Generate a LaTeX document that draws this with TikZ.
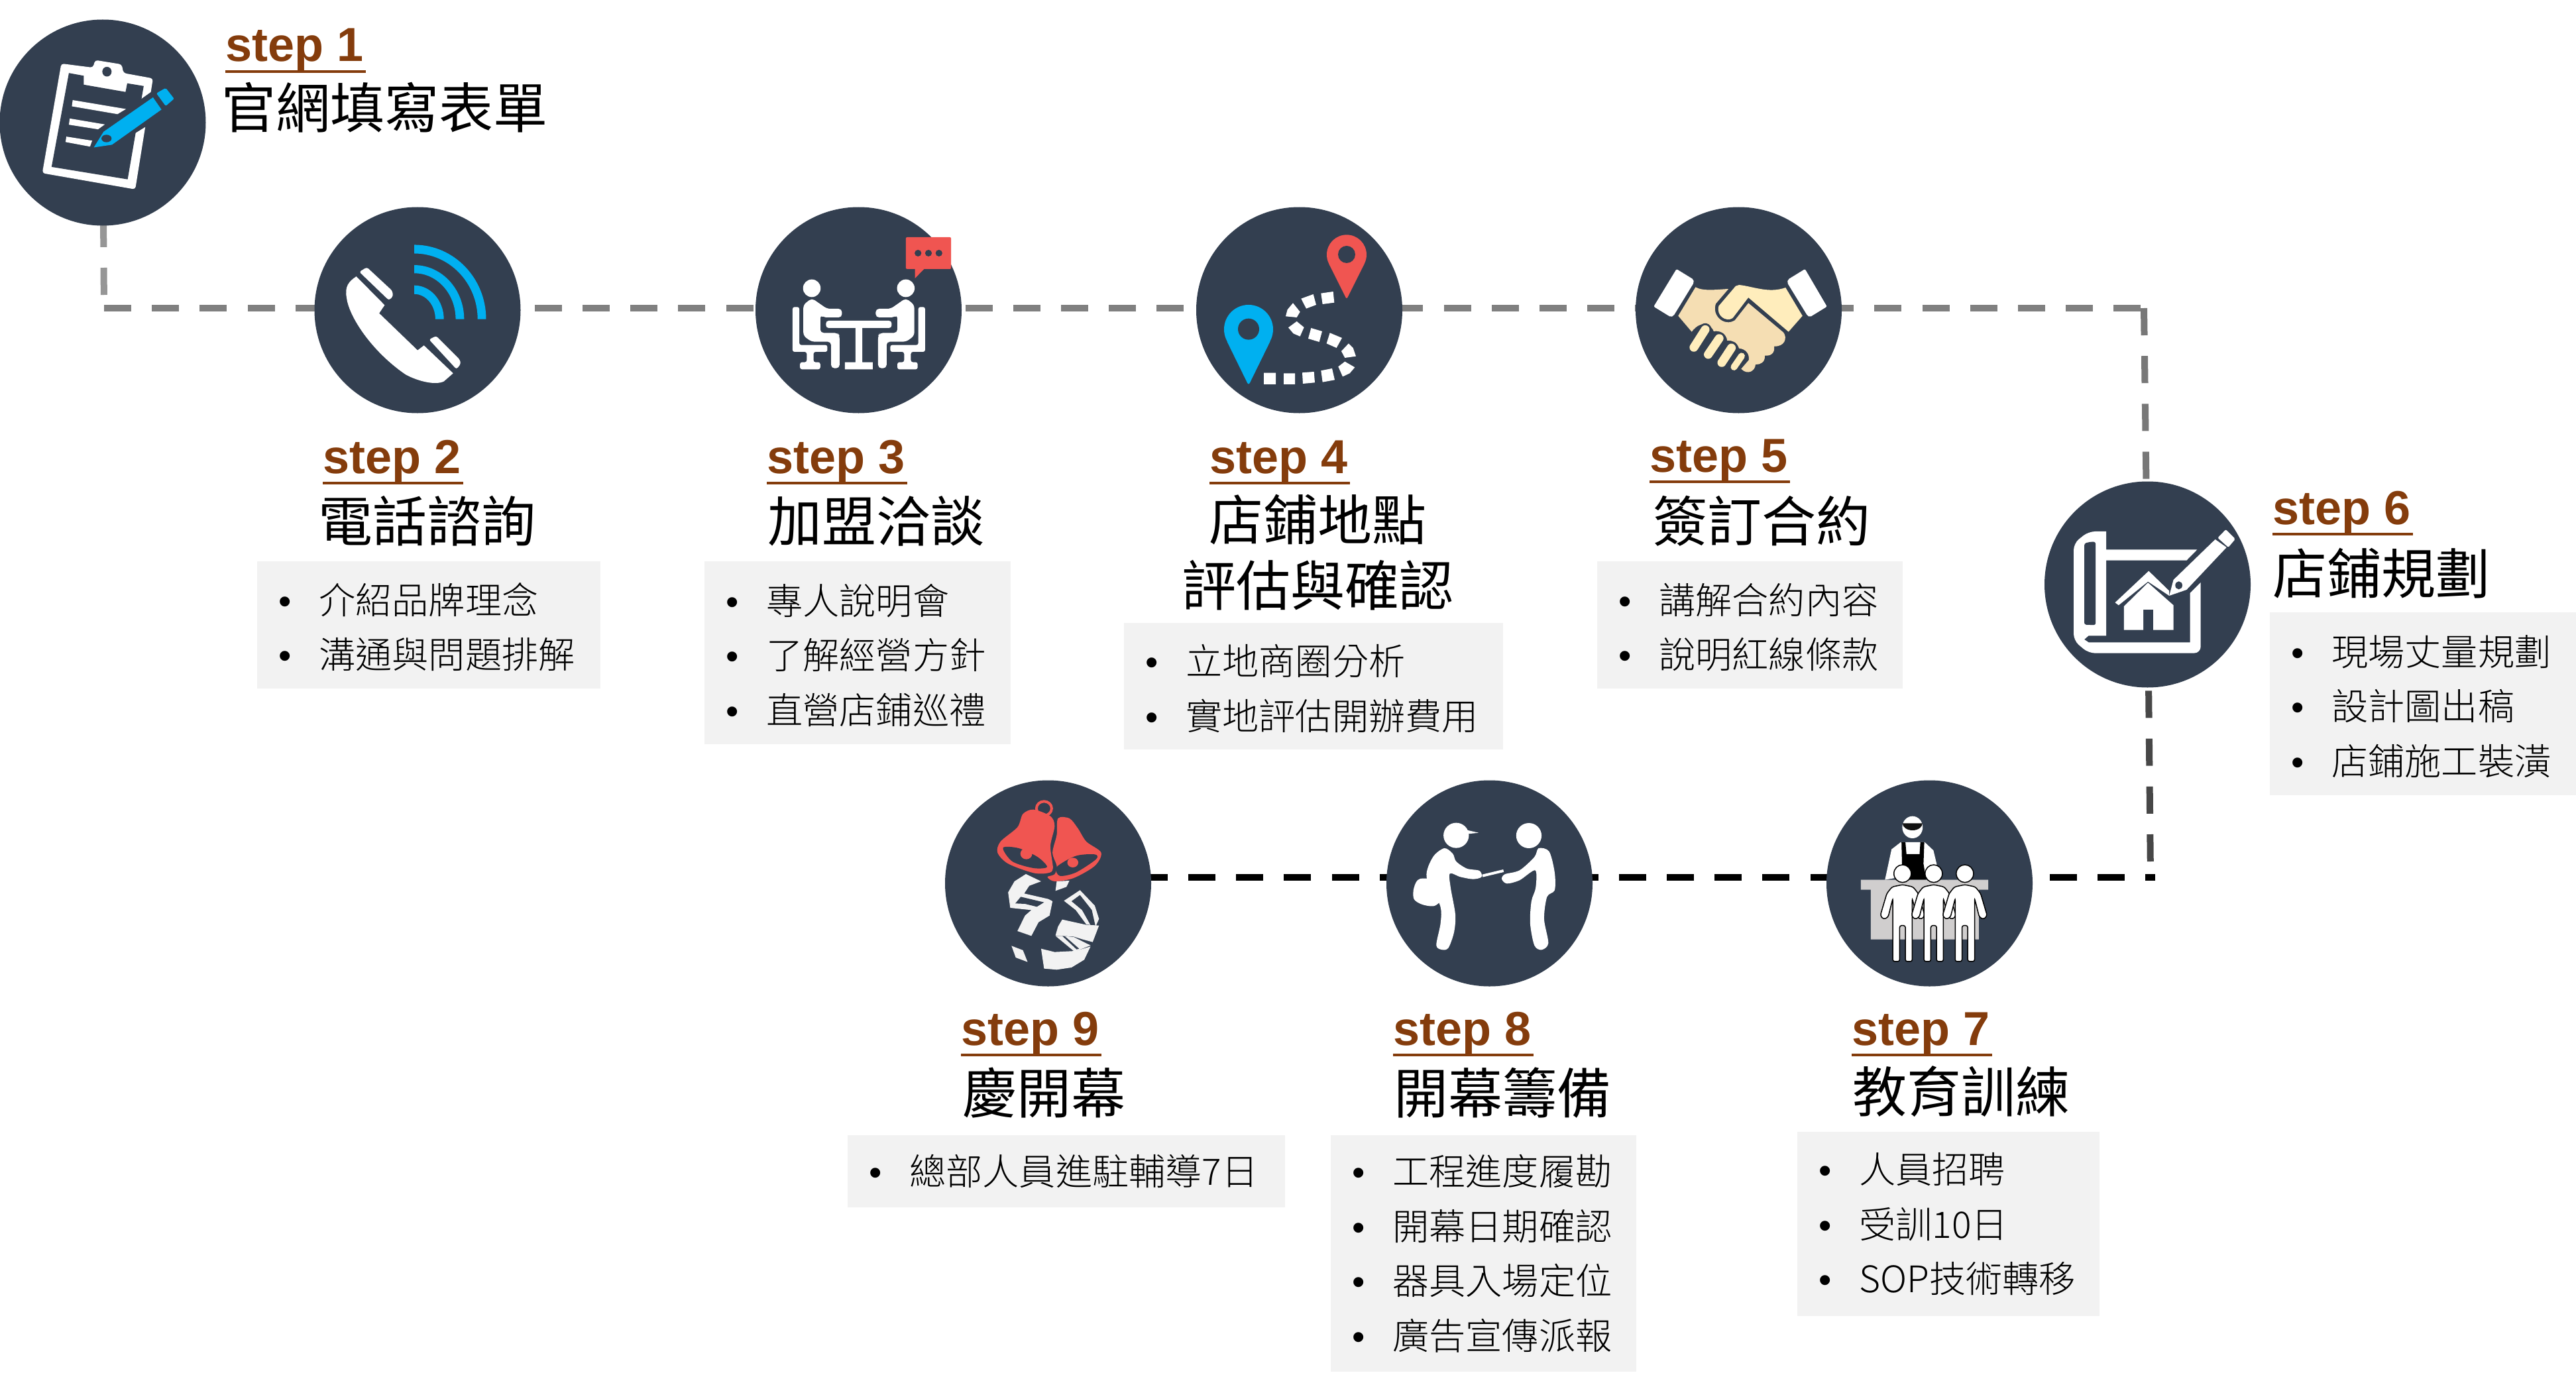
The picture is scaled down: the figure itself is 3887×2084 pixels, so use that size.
\documentclass[tikz,border=0pt]{standalone}
\usepackage{fontspec}
\setmainfont{Noto Sans CJK TC}
\newfontfamily\stepfont{Liberation Sans}
\newfontfamily\lightfont{Noto Sans CJK TC Light}
\usetikzlibrary{backgrounds}

\definecolor{navy}{HTML}{333F50}
\definecolor{stepbrown}{HTML}{843C0C}
\definecolor{skyblue}{HTML}{00B0F0}
\definecolor{pinred}{HTML}{F05551}
\definecolor{boxgray}{HTML}{F2F2F2}
\definecolor{handlight}{HTML}{FFEDBC}
\definecolor{handtan}{HTML}{F5DEB3}
\definecolor{counter}{HTML}{D0CECE}

\newcommand{\bul}[1]{\makebox[61pt][l]{{\stepfont •}}#1}
\newcommand{\lifted}{\rule{0pt}{53pt}}

\tikzset{
  stepcircle/.style={shape=circle,fill=navy,minimum size=311pt,inner sep=0pt},
  steplabel/.style={anchor=base west,inner sep=0pt,text=stepbrown,
    font=\stepfont\bfseries\fontsize{72}{72}\selectfont},
  stepline/.style={stepbrown,line width=4pt},
  titlelabel/.style={anchor=base,inner sep=0pt,align=center,
    font=\fontsize{82}{99}\selectfont},
  listbox/.style={anchor=north west,fill=boxgray,inner xsep=32pt,inner ysep=0pt,
    font=\lightfont\fontsize{55.2}{82.5}\selectfont},
  graydash/.style={line width=10pt,dash pattern=on 41pt off 31.2pt,color=#1},
  graydash/.default={black!50},
  zoomed/.style n args={4}{shift={(#1,#2)},x=#3pt,y=-#4pt}
}

\begin{document}
\begin{tikzpicture}[x=1pt,y=-1pt]
\useasboundingbox (0,0) rectangle (3887,2084);

\foreach \n/\x/\y in {1/155/185,2/630/468,3/1295.5/468,4/1960.5/468,5/2623.5/468,
                      6/3240.5/882,7/2911.5/1333,8/2247.5/1333,9/1581.5/1333}
  \node(s\n) at (\x,\y)[stepcircle] {};

\foreach \n/\x/\y in {1/340/93,2/487/714,3/1157/714,4/1825/714,5/2489/712,
                      6/3429/791,7/2794/1577,8/2102/1577,9/1450/1577}{
  \node(t\n) at (\x,\y)[steplabel] {\makebox[212pt][l]{step \n}};
  \draw[stepline] (t\n.south west) -- (t\n.south east);
}

\node(h1) at (334,194)[titlelabel,anchor=base west] {官網填寫表單};
\node(h2) at (644,817)[titlelabel] {電話諮詢};
\node(h3) at (1322,817)[titlelabel] {加盟洽談};
\node(h4) at (1988,914)[titlelabel] {店鋪地點\\評估與確認};
\node(h5) at (2658,817)[titlelabel] {簽訂合約};
\node(h6) at (3429,896)[titlelabel,anchor=base west] {店鋪規劃};
\node(h7) at (2959,1678)[titlelabel] {教育訓練};
\node(h8) at (2267,1680)[titlelabel] {開幕籌備};
\node(h9) at (1575,1680)[titlelabel] {慶開幕};

\node(b2) at (388,847)[listbox,text width=454pt,minimum height=192pt]
  {\lifted\bul{介紹品牌理念}\\\bul{溝通與問題排解}};
\node(b3) at (1063,847)[listbox,text width=398pt,minimum height=276pt]
  {\lifted\bul{專人說明會}\\\bul{了解經營方針}\\\bul{直營店鋪巡禮}};
\node(b4) at (1696,940)[listbox,text width=508pt,minimum height=191pt]
  {\lifted\bul{立地商圈分析}\\\bul{實地評估開辦費用}};
\node(b5) at (2410,847)[listbox,text width=397pt,minimum height=192pt]
  {\lifted\bul{講解合約內容}\\\bul{說明紅線條款}};
\node(b6) at (3425,924)[listbox,text width=398pt,minimum height=276pt]
  {\lifted\bul{現場丈量規劃}\\\bul{設計圖出稿}\\\bul{店鋪施工裝潢}};
\node(b7) at (2712,1708)[listbox,text width=392pt,minimum height=278pt]
  {\bul{人員招聘}\\\bul{受訓10日}\\\bul{SOP技術轉移}};
\node(b8) at (2008,1713)[listbox,text width=397pt,minimum height=357pt]
  {\bul{工程進度履勘}\\\bul{開幕日期確認}\\\bul{器具入場定位}\\\bul{廣告宣傳派報}};
\node(b9) at (1279,1713)[listbox,text width=596pt,minimum height=109pt]
  {\bul{總部人員進駐輔導7日}};

\coordinate (c1) at (157,465);
\coordinate (c2) at (3235,465);
\coordinate (c3) at (3245,1324);

\begin{scope}[on background layer]
\draw[graydash=black!41,dash phase=52.2pt] (c1) -- (s1.center);
\draw[graydash] (c1) -- (s2.center |- c1) -- (s3.center |- c1) -- (s4.center |- c1)
  -- (s5.center |- c1) -- (c2);
\draw[graydash=black!53] (c2) -- (s6.center);
\draw[graydash=black!72,dash phase=48.2pt] (c3) -- (s6.center);
\draw[graydash=black,dash phase=26pt] ([xshift=7pt]c3) -- (s7.center |- c3)
  -- (s8.center |- c3) -- (s9.center |- c3);
\end{scope}

% clipboard and pen
\begin{scope}[zoomed={0}{0}{0.6378}{0.4082}]
\fill[white,rounded corners=4pt] (145,235) -- (220,250) -- (225,222) -- (288,238) -- (292,270)
  -- (362,290) -- (320,700) -- (100,640) -- cycle;
\fill[navy] (163,270) -- (198,280) -- (198,313) -- (297,340) -- (301,308) -- (340,318)
  -- (302,663) -- (122,617) -- cycle;
\fill[navy] (253,265) ellipse [x radius=11,y radius=18];
\fill[white] (172,370) -- (298,403) -- (278,422) -- (170,393) -- cycle
  (165,438) -- (248,460) -- (232,478) -- (163,461) -- cycle
  (157,505) -- (218,520) -- (213,542) -- (155,525) -- cycle;
\fill[navy] (335,365) -- (362,335) -- (395,400) -- (345,468) -- (265,545) -- (225,500) -- cycle;
\fill[skyblue] (245,487) -- (362,360) -- (382,405) -- (265,535) -- (222,545) -- cycle;
\fill[skyblue,rounded corners=2pt] (370,345) -- (392,325) -- (412,365) -- (392,392) -- cycle;
\fill[navy] (252,512) ellipse [x radius=12,y radius=14];
\end{scope}

% telephone
\begin{scope}[zoomed={0}{0}{0.6378}{0.4082}]
\fill[white] (843,1022) .. controls (825,1040) and (815,1060) .. (820,1100)
  .. controls (825,1170) and (880,1300) .. (960,1385)
  .. controls (990,1410) and (1030,1425) .. (1050,1410) -- (1072,1380) -- (1003,1277)
  -- (988,1295) -- (897,1158) -- (910,1128) -- cycle;
\fill[white,rounded corners=3pt] (850,1005) -- (868,988) -- (928,1075) -- (930,1095) -- (920,1110) -- cycle;
\fill[white,rounded corners=3pt] (1015,1255) -- (1032,1242) -- (1088,1330) -- (1090,1345) -- (1080,1365) -- cycle;
\foreach \ox/\oy/\ix/\iy in {170/275/150/243,118/200/98/170,70/125/50/93}
  \fill[skyblue] (980,1180-\oy) arc [start angle=-90,end angle=0,x radius=\ox,y radius=\oy]
    -- (980+\ix,1180) arc [start angle=0,end angle=-90,x radius=\ix,y radius=\iy] -- cycle;
\end{scope}

% two people at a table
\begin{scope}[zoomed={1295.9}{280}{0.5102}{0.3333}]
\foreach \m in {1,-1}{
\begin{scope}[xscale=\m]
\fill[white] (-139,465) ellipse [x radius=26,y radius=40];
\fill[white,rounded corners=5pt] (-139,510) -- (-94,558) -- (-50,558) -- (-50,597) -- (-104,597)
  -- (-114,585) -- (-114,667) -- (-62,667) -- (-57,680) -- (-57,827) -- (-82,827) -- (-82,707)
  -- (-140,707) -- (-164,680) -- (-164,540) -- cycle;
\fill[white,rounded corners=3pt] (-196,550) -- (-176,550) -- (-176,722) -- (-93,722) -- (-93,753)
  -- (-134,753) -- (-134,800) -- (-114,800) -- (-114,832) -- (-174,832) -- (-174,800)
  -- (-154,800) -- (-154,753) -- (-196,753) -- cycle;
\end{scope}
}
\fill[white,rounded corners=4pt] (-97,612) rectangle (97,645);
\fill[white] (-10,640) rectangle (10,800) (-41,800) rectangle (41,832);
\fill[pinred,rounded corners=2pt] (139,234) rectangle (273,378);
\fill[pinred] (166,370) -- (166,420) -- (193,378) -- cycle;
\foreach \x in {175,206,237}
  \fill[navy] (\x,306) ellipse [x radius=10,y radius=15];
\end{scope}

% map pins and path
\begin{scope}[zoomed={1800}{305}{0.3333}{0.3333}]
\fill[pinred] (696,238) circle [radius=90];
\fill[pinred,rounded corners=3pt] (612,272) -- (696,440) -- (780,272) -- cycle;
\fill[navy] (696,237) circle [radius=39];
\fill[skyblue] (252,576) circle [radius=111];
\fill[skyblue,rounded corners=4pt] (150,622) -- (252,830) -- (354,622) -- cycle;
\fill[navy] (252,575) circle [radius=48];
\fill[white] (321,773) -- (375,773) -- (375,825) -- (321,825) -- cycle
  (411,775) -- (462,775) -- (462,825) -- (411,825) -- cycle
  (495,772) -- (548,768) -- (552,817) -- (498,822) -- cycle
  (580,763) -- (630,753) -- (642,805) -- (587,815) -- cycle
  (658,745) -- (688,722) -- (733,748) -- (710,775) -- (678,790) -- cycle
  (672,675) -- (705,640) -- (725,660) -- (738,698) -- (688,705) -- cycle
  (620,592) -- (675,615) -- (650,660) -- (605,640) -- cycle
  (535,570) -- (585,585) -- (572,633) -- (522,618) -- cycle
  (470,540) -- (503,567) -- (485,608) -- (455,595) -- (432,568) -- cycle
  (453,457) -- (485,497) -- (470,522) -- (420,517) -- (428,487) -- cycle
  (490,437) -- (545,417) -- (558,465) -- (513,482) -- cycle
  (580,413) -- (635,405) -- (640,455) -- (587,462) -- cycle;
\end{scope}

% handshake
\begin{scope}[zoomed={2420}{280}{0.6378}{0.3333}]
\fill[white,rounded corners=2pt] (172,378) -- (212,425) -- (213,440) -- (165,590) -- (158,595) -- (118,548) -- cycle;
\fill[white,rounded corners=2pt] (476,378) -- (528,548) -- (488,595) -- (482,590) -- (434,440) -- (436,425) -- cycle;
\fill[handlight] (320,450) .. controls (350,455) and (390,490) .. (430,462) -- (470,590) -- (437,662)
  -- (342,507) -- (305,600) .. controls (290,620) and (265,590) .. (272,545) -- (312,455) -- cycle;
\fill[handtan] (217,460) .. controls (235,480) and (270,470) .. (295,468) -- (265,535)
  .. controls (255,590) and (285,640) .. (310,610) -- (342,532) -- (425,665)
  .. controls (435,690) and (428,730) .. (403,728) .. controls (405,760) and (395,772) .. (381,770)
  .. controls (382,800) and (370,812) .. (359,810) .. controls (358,840) and (340,860) .. (325,830)
  -- (343,790) .. controls (345,760) and (335,740) .. (320,737)
  .. controls (315,710) and (305,700) .. (292,702) .. controls (290,670) and (275,655) .. (260,660)
  .. controls (255,630) and (230,605) .. (208,662) -- (176,590) -- cycle;
\foreach \ax/\ay/\bx/\by/\w in {240/652/213/733/13,273/692/247/765/13,302/735/279/802/13,326/772/308/822/10}{
  \draw[navy,line width=\w pt+6pt,line cap=round] (\ax,\ay) -- (\bx,\by);
  \draw[handlight,line width=\w pt,line cap=round] (\ax,\ay) -- (\bx,\by);
}
\end{scope}

% floor plan
\begin{scope}[zoomed={3050}{700}{0.5339}{0.3333}]
\fill[white,rounded corners=10pt] (240,306) -- (190,306) -- (148,360) -- (148,800) -- (190,857)
  -- (507,857) [sharp corners] -- (507,537) -- (477,585) -- (477,808) -- (190,808) -- (178,795)
  -- (190,778) -- (240,778) -- (240,437) -- (467,437) -- (497,388) -- (240,388) -- cycle;
\fill[navy,rounded corners=3pt] (178,360) -- (195,353) -- (210,353) -- (210,730) -- (178,728) -- cycle;
\fill[white] (430,525) -- (548,342) -- (580,378) -- (467,570) -- (418,597) -- cycle;
\fill[white,rounded corners=2pt] (555,335) -- (578,297) -- (605,340) -- (585,378) -- cycle;
\fill[navy] (445,550) ellipse [x radius=10,y radius=18];
\fill[white] (265,628) -- (360,485) -- (418,575) -- (418,597) -- (358,533) -- (275,640) -- cycle;
\fill[white] (290,645) -- (358,538) -- (430,640) -- (430,752) -- (373,752) -- (373,660)
  -- (345,660) -- (345,752) -- (290,752) -- cycle;
\end{scope}

% counter and trainees
\begin{scope}[zoomed={2700}{1160}{0.3953}{0.3333}]
\fill[white] (470,265) ellipse [x radius=39,y radius=50];
\fill[black!93] (432,247) arc [start angle=180,end angle=360,x radius=38,y radius=-32] -- cycle;
\fill[white] (425,333) -- (517,333) -- (550,370) -- (568,460) -- (365,503) -- (390,365) -- cycle;
\fill[black] (428,333) -- (443,333) -- (447,387) -- (497,387) -- (500,333) -- (515,333)
  -- (512,430) -- (522,503) -- (432,503) -- (430,430) -- cycle;
\fill[counter] (273,503) rectangle (759,548) (311,548) rectangle (723,773);
\foreach \x in {432,551,670}{
  \draw[fill=white,line width=1.5pt] (\x,475) ellipse [x radius=33,y radius=40];
  \draw[fill=white,line width=1.5pt,rounded corners=3pt] (\x-37,873) -- (\x-37,587) -- (\x-55,672)
    -- (\x-72,682) -- (\x-85,665) -- (\x-60,565) -- (\x-40,535) -- (\x,525) -- (\x+40,535)
    -- (\x+60,565) -- (\x+85,665) -- (\x+72,682) -- (\x+55,672) -- (\x+37,587) -- (\x+37,873)
    -- (\x+11,873) -- (\x+11,710) -- (\x-11,710) -- (\x-11,873) -- cycle;
}
\end{scope}

% two people handing over a paper
\begin{scope}[zoomed={1400}{1160}{0.6378}{0.3333}]
\fill[white] (1250,302) ellipse [x radius=30,y radius=57];
\fill[white] (1262,272) -- (1303,290) -- (1265,298) -- cycle;
\fill[white] plot [smooth cycle] coordinates {(1222,360) (1242,385) (1250,420) (1275,452) (1305,462)
  (1310,490) (1290,500) (1260,490) (1235,475) (1237,540) (1248,660) (1245,740) (1232,810) (1218,820)
  (1203,800) (1213,700) (1212,620) (1180,490) (1195,400)};
\fill[white] plot [smooth cycle] coordinates {(1165,498) (1222,510) (1225,570) (1200,620) (1170,615)
  (1150,590) (1150,540)};
\draw[white,line width=4pt] (1312,485) -- (1362,462);
\fill[white] (1422,303) ellipse [x radius=30,y radius=57];
\fill[white] plot [smooth cycle] coordinates {(1445,360) (1470,375) (1483,470) (1483,550) (1465,580)
  (1458,680) (1468,790) (1452,820) (1435,800) (1425,700) (1428,600) (1438,540) (1437,460) (1400,505)
  (1370,520) (1358,500) (1365,478) (1400,460) (1435,400)};
\end{scope}

% bells and ribbon
\begin{scope}[zoomed={1400}{1160}{0.6378}{0.3333}]
\draw[pinred,line width=4pt] (275,180) ellipse [x radius=18,y radius=32];
\fill[pinred] plot [smooth cycle] coordinates {(250,185) (225,205) (212,265) (172,330) (165,380)
  (190,430) (250,472) (285,472) (296,450) (290,350) (300,260) (290,215)};
\fill[navy] plot [smooth cycle] coordinates {(178,358) (215,360) (260,400) (282,445) (250,450) (200,420)};
\fill[pinred] (233,385) ellipse [x radius=14,y radius=25];
\fill[pinred] plot [smooth cycle] coordinates {(308,225) (335,225) (355,270) (375,330) (410,380)
  (395,440) (345,495) (300,510) (283,490) (300,478) (305,440) (295,380) (305,300)};
\fill[navy] plot [smooth cycle] coordinates {(305,445) (350,395) (395,388) (398,410) (350,470) (312,485)};
\fill[pinred] (343,425) ellipse [x radius=13,y radius=22];
\fill[boxgray] (232,477) -- (268,510) -- (240,530) -- (228,565) -- (285,590) -- (295,600) -- (288,665)
  -- (262,695) -- (245,757) -- (212,735) -- (230,665) -- (245,640) -- (195,630) -- (190,560) -- (205,510) -- cycle;
\fill[navy] (207,610) -- (220,580) -- (275,605) -- (258,625) -- (230,612) -- cycle;
\fill[boxgray] (305,510) -- (335,507) -- (328,535) -- (302,553) -- cycle;
\fill[boxgray] (322,598) -- (360,550) -- (395,620) -- (405,680) -- (398,710) -- (375,705) -- (350,640) -- cycle;
\fill[navy] (340,600) -- (360,572) -- (388,640) -- (396,708) -- (385,708) -- (365,640) -- cycle;
\fill[boxgray] (318,683) -- (375,707) -- (405,710) -- (390,785) -- (365,772) -- (345,760) -- (302,755) -- (308,715) -- cycle;
\fill[boxgray] (302,757) -- (345,825) -- (352,825) -- (385,800) -- (345,762) -- (318,757) -- cycle;
\fill[navy] (318,757) -- (352,818) -- (358,815) -- (325,760) -- cycle;
\fill[boxgray] (198,802) -- (225,822) -- (236,875) -- (208,855) -- cycle;
\fill[boxgray] (268,815) -- (300,830) -- (350,825) -- (385,805) -- (370,865) -- (340,900) -- (305,910) -- (275,905) -- cycle;
\end{scope}
\end{tikzpicture}
\end{document}
